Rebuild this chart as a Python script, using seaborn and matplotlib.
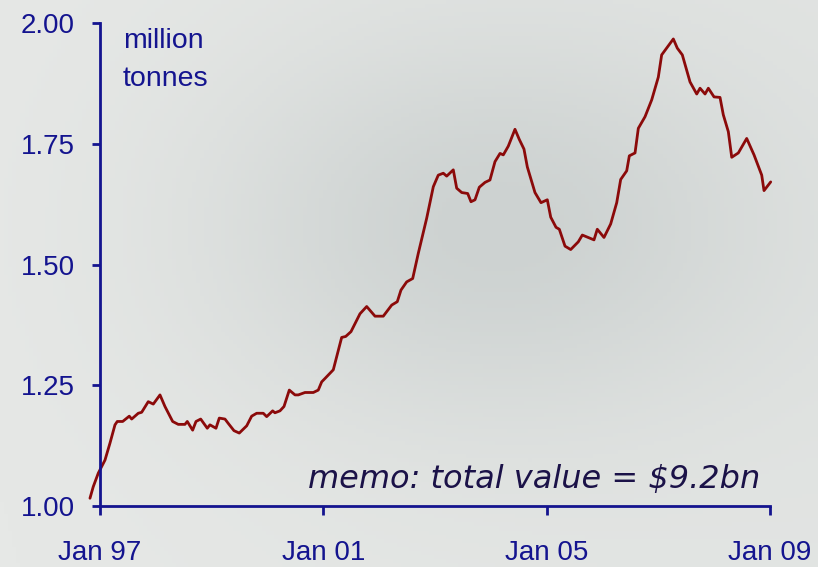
import numpy as np
import pandas as pd
import matplotlib
matplotlib.use("Agg")
import matplotlib.pyplot as plt
import seaborn as sns
from matplotlib.colors import LinearSegmentedColormap

# years since Jan 1997 and volume in million tonnes
years_since_97 = [
    -0.179, -0.120, -0.030, 0.090, 0.179, 0.269, 0.310, 0.407, 0.525, 0.568,
    0.686, 0.747, 0.865, 0.955, 1.075, 1.164, 1.302, 1.402, 1.522, 1.564,
    1.660, 1.720, 1.804, 1.922, 1.970, 2.078, 2.137, 2.239, 2.298, 2.400,
    2.495, 2.628, 2.717, 2.807, 2.925, 2.986, 3.093, 3.134, 3.224, 3.296,
    3.391, 3.493, 3.552, 3.672, 3.821, 3.910, 3.971, 4.030, 4.179, 4.329,
    4.401, 4.496, 4.657, 4.777, 4.926, 5.074, 5.225, 5.325, 5.391, 5.493,
    5.601, 5.701, 5.852, 5.970, 6.059, 6.149, 6.210, 6.328, 6.389, 6.479,
    6.586, 6.645, 6.717, 6.794, 6.896, 6.985, 7.075, 7.165, 7.224, 7.313,
    7.433, 7.510, 7.594, 7.654, 7.791, 7.899, 8.012, 8.073, 8.168, 8.227,
    8.329, 8.431, 8.567, 8.639, 8.848, 8.907, 9.027, 9.147, 9.255, 9.326,
    9.434, 9.481, 9.583, 9.642, 9.762, 9.882, 10.000, 10.060, 10.269, 10.340,
    10.430, 10.568, 10.688, 10.747, 10.837, 10.896, 10.998, 11.105, 11.164, 11.254,
    11.315, 11.433, 11.583, 11.714, 11.852, 11.893, 12.013,
]
volume = [
    1.016, 1.040, 1.068, 1.095, 1.130, 1.168, 1.175, 1.175, 1.186, 1.180,
    1.192, 1.194, 1.216, 1.211, 1.230, 1.206, 1.175, 1.169, 1.169, 1.175,
    1.157, 1.175, 1.180, 1.161, 1.168, 1.161, 1.182, 1.180, 1.171, 1.156,
    1.151, 1.166, 1.186, 1.192, 1.192, 1.185, 1.197, 1.193, 1.197, 1.206,
    1.240, 1.230, 1.230, 1.235, 1.235, 1.240, 1.257, 1.264, 1.282, 1.349,
    1.351, 1.361, 1.398, 1.413, 1.393, 1.393, 1.416, 1.423, 1.447, 1.464,
    1.471, 1.523, 1.596, 1.661, 1.685, 1.689, 1.683, 1.696, 1.658, 1.649,
    1.647, 1.630, 1.634, 1.660, 1.670, 1.675, 1.713, 1.730, 1.727, 1.745,
    1.780, 1.759, 1.739, 1.702, 1.649, 1.628, 1.634, 1.598, 1.577, 1.573,
    1.538, 1.531, 1.547, 1.561, 1.551, 1.573, 1.556, 1.584, 1.628, 1.676,
    1.694, 1.725, 1.731, 1.782, 1.806, 1.841, 1.888, 1.934, 1.967, 1.948,
    1.934, 1.878, 1.853, 1.865, 1.853, 1.865, 1.847, 1.846, 1.810, 1.775,
    1.722, 1.731, 1.761, 1.727, 1.685, 1.653, 1.671,
]

x_ticks = [0, 4, 8, 12]
x_labels = ["Jan 97", "Jan 01", "Jan 05", "Jan 09"]
y_ticks = [1.00, 1.25, 1.50, 1.75, 2.00]
y_labels = ["1.00", "1.25", "1.50", "1.75", "2.00"]

df = pd.DataFrame({"t": years_since_97, "v": volume})

sns.set_theme(style="white")
plt.rcParams["font.family"] = ["Liberation Sans", "DejaVu Sans"]

navy = "#14148f"
line_red = "#8b0a0a"

fig = plt.figure(figsize=(8.18, 5.67), dpi=100)

# soft grey background: lighter edges, slightly darker middle
bg = fig.add_axes([0, 0, 1, 1], zorder=-10)
gx, gy = np.meshgrid(np.linspace(0, 1, 200), np.linspace(0, 1, 140))
shade = 1 - 0.8 * np.exp(-((gx - 0.6) ** 2 + (gy - 0.4) ** 2) / 0.12) + 0.15 * (1 - gx)
cmap = LinearSegmentedColormap.from_list("bg", ["#cdd2d1", "#e6e8e6"])
bg.imshow(shade, cmap=cmap, aspect="auto", extent=[0, 1, 0, 1], origin="upper")
bg.axis("off")

ax = fig.add_axes([0.1222, 0.1076, 0.8191, 0.8518])
ax.set_facecolor("none")

sns.lineplot(data=df, x="t", y="v", ax=ax, color=line_red, linewidth=2.0,
             estimator=None, sort=False, clip_on=False)

ax.set_xlim(0, 12)
ax.set_ylim(1.0, 2.0)
ax.set_xticks(x_ticks)
ax.set_xticklabels(x_labels)
ax.set_yticks(y_ticks)
ax.set_yticklabels(y_labels)
ax.set_xlabel("")
ax.set_ylabel("")

for side in ["top", "right"]:
    ax.spines[side].set_visible(False)
for side in ["left", "bottom"]:
    ax.spines[side].set_color(navy)
    ax.spines[side].set_linewidth(2)

ax.tick_params(axis="y", length=6, width=2, pad=12, colors=navy, labelsize=20, direction="out", left=True)
ax.tick_params(axis="x", length=6.5, width=2, pad=18, colors=navy, labelsize=20, direction="out", bottom=True)

ax.text(0.034, 0.99, "million\ntonnes", transform=ax.transAxes, ha="left", va="top",
        multialignment="left", fontsize=20.5, color=navy, linespacing=1.6)
ax.text(0.985, 0.055, "memo: total value = $9.2bn", transform=ax.transAxes, ha="right",
        va="center", fontsize=23, color="#1b1248", style="italic", family="DejaVu Sans")

fig.savefig("out.png", dpi=100)
